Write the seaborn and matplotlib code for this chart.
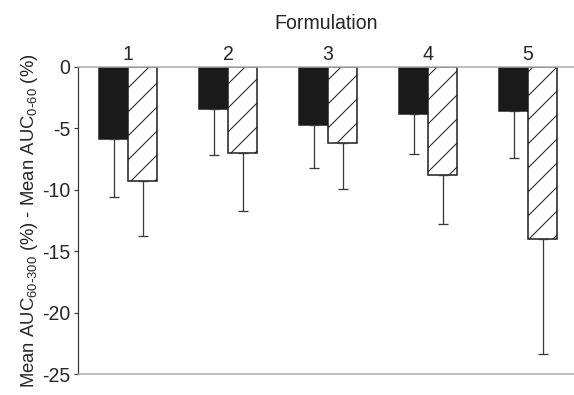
import numpy as np
import pandas as pd
import seaborn as sns
import matplotlib.pyplot as plt

# data
formulations = ["1", "2", "3", "4", "5"]
groups = ["A", "B"]
mean_a = [-5.9, -3.4, -4.7, -3.8, -3.6]
mean_b = [-9.3, -7.0, -6.2, -8.8, -14.0]
err_a = [4.7, 3.8, 3.5, 3.3, 3.8]
err_b = [4.5, 4.7, 3.7, 4.0, 9.4]

df = pd.DataFrame({
    "Formulation": formulations * 2,
    "group": [groups[0]] * 5 + [groups[1]] * 5,
    "value": mean_a + mean_b,
})

sns.set_style("white")
plt.rcParams["font.family"] = ["Liberation Sans", "DejaVu Sans"]

DPI = 72
fig = plt.figure(figsize=(574 / DPI, 395 / DPI), dpi=DPI)
ax = fig.add_axes([78 / 574, 1 - 374 / 395, 1 - 78 / 574, 307 / 395])

sns.barplot(data=df, x="Formulation", y="value", hue="group", order=formulations,
            hue_order=groups, palette=["#1a1a1a", "white"], width=0.58, gap=0,
            edgecolor="#1a1a1a", linewidth=1.5, errorbar=None, legend=False, ax=ax)

plt.rcParams["hatch.linewidth"] = 0.9
bars = [p for p in ax.patches if p.get_height() != 0]
n = len(formulations)
for p in bars[n:2 * n]:
    p.set_hatch("/")

# one-sided (downward) error bars
for bar_set, errs in ((bars[:n], err_a), (bars[n:2 * n], err_b)):
    xs = [p.get_x() + p.get_width() / 2 for p in bar_set]
    ys = [p.get_y() + p.get_height() for p in bar_set]
    ax.errorbar(xs, ys, yerr=[errs, [0] * n], fmt="none", ecolor="#3a3a3a",
                elinewidth=1.3, capsize=5, capthick=1.3, zorder=1)

ax.set_ylim(-25, 0)
ax.set_xlim(-0.5, 4.46)
ax.set_yticks([0, -5, -10, -15, -20, -25])
ax.set_yticklabels(["0", "-5", "-10", "-15", "-20", "-25"])
ax.xaxis.tick_top()
ax.xaxis.set_label_position("top")
ax.set_xlabel("Formulation", fontsize=19.5, labelpad=16)
ax.set_ylabel(r"Mean AUC$_{\mathregular{60\text{-}300}}$ (%) - Mean AUC$_{\mathregular{0\text{-}60}}$ (%)",
              fontsize=18.5, labelpad=2)
ax.tick_params(axis="x", length=0, labelsize=19.5, pad=3)
ax.tick_params(axis="y", left=True, length=4, width=1.2, color="#333333",
               labelsize=19.5, pad=4)

for side in ("top", "bottom"):
    ax.spines[side].set_color("#aaaaaa")
    ax.spines[side].set_linewidth(1.5)
ax.spines["right"].set_visible(False)
ax.spines["left"].set_color("#333333")
ax.spines["left"].set_linewidth(1.2)

fig.savefig("out.png", dpi=DPI)
